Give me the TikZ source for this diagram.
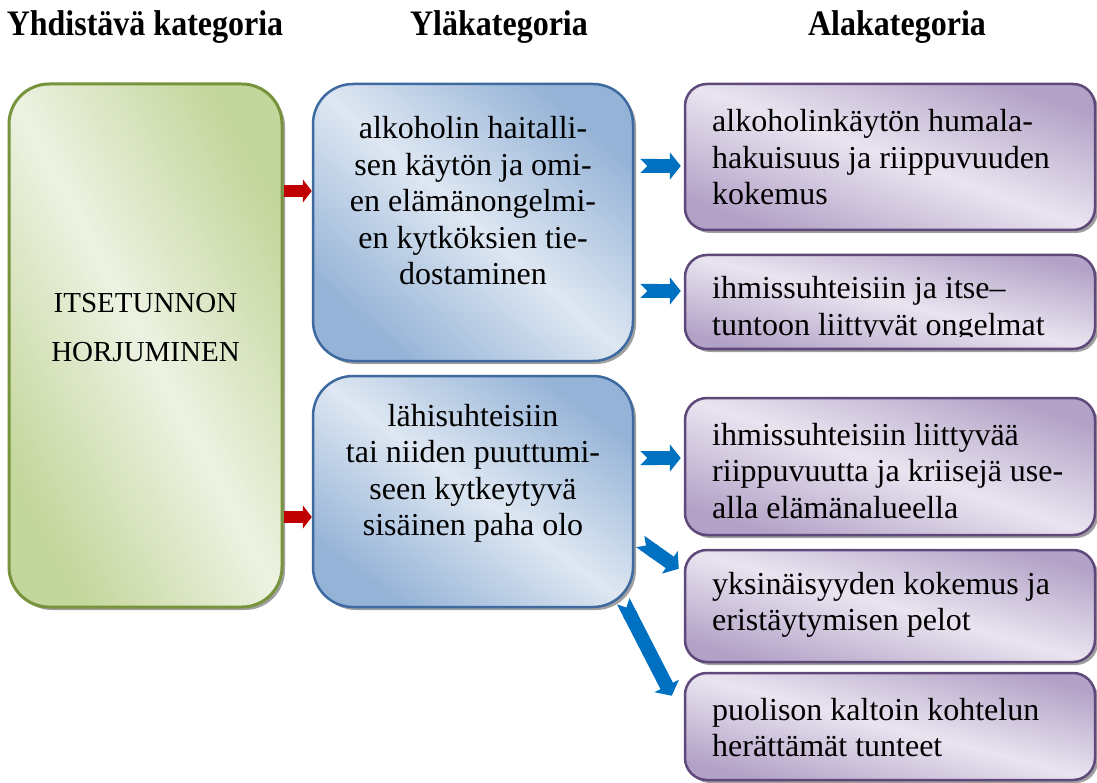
\documentclass[tikz,border=0pt]{standalone}
\usepackage{fontspec}
\setmainfont{Liberation Serif}
\usetikzlibrary{arrows.meta,shadows,calc,backgrounds}

\definecolor{greenedge}{HTML}{77933C}
\definecolor{greenlight}{HTML}{EDF2E2}
\definecolor{greendark}{HTML}{C3D69B}
\definecolor{blueedge}{HTML}{3E6AA0}
\definecolor{bluelight}{HTML}{DEE7F2}
\definecolor{bluedark}{HTML}{95B3D7}
\definecolor{purpleedge}{HTML}{5F497A}
\definecolor{purplelight}{HTML}{E9E4F0}
\definecolor{purpledark}{HTML}{B3A2C7}
\definecolor{arrowred}{HTML}{C00000}
\definecolor{arrowblue}{HTML}{0070C0}
\definecolor{shadowgray}{HTML}{A0A0A0}

\tikzset{
  card/.style={rectangle, inner sep=0pt, line width=2.5pt,
    drop shadow={shadow xshift=3pt, shadow yshift=-3pt, fill=shadowgray, opacity=1}},
  greencard/.style={card, rounded corners=40pt, draw=greenedge, line width=3pt,
    left color=greendark, right color=greendark, middle color=greenlight, shading angle=-62},
  bluecard/.style={card, rounded corners=40pt, draw=blueedge,
    left color=bluedark, right color=bluedark, middle color=bluelight, shading angle=#1},
  purplecard/.style={card, rounded corners=22pt, draw=purpleedge,
    left color=purpledark, right color=purpledark, middle color=purplelight, shading angle=#1},
  heading/.style={font=\bfseries\fontsize{32}{38}\selectfont, inner sep=0pt, anchor=base},
  % multi-line nodes are placed by the baseline of their last line
  bodytext/.style={font=\fontsize{32}{36.5}\selectfont, inner sep=0pt, anchor=base},
  redarrow/.style={draw=arrowred, line width=12pt, -{Triangle[length=9pt, width=23pt]}},
  bluearrow/.style={draw=arrowblue, line width=14pt,
    {Triangle Cap[reversed]}-{Triangle[length=11pt, width=27pt]}},
}

\begin{document}
\begin{tikzpicture}[x=1pt, y=1pt]
\useasboundingbox (0,0) rectangle (1097,-783);

% column headings
\node[heading] (h1) at (145,-36) {\scalebox{1}[1.12]{Yhdistävä kategoria}};
\node[heading] (h2) at (499,-36) {\scalebox{1}[1.12]{Yläkategoria}};
\node[heading] (h3) at (897,-36) {\scalebox{1}[1.12]{Alakategoria}};

% combining category
\node[greencard, minimum width=273pt, minimum height=523pt] (g) at (145.5,-345.5) {};
\node[font=\fontsize{29}{49}\selectfont, align=center, inner sep=0pt, anchor=base] (gt)
  at (145.5,-362) {ITSETUNNON\\HORJUMINEN};

% upper categories
\node[bluecard=-41, minimum width=320pt, minimum height=277pt] (b1) at (473,-222.5) {};
\node[bodytext, align=center] (b1t) at (473,-285)
  {alkoholin haitalli-\\sen käytön ja omi-\\en elämänongelmi-\\en kytköksien tie-\\dostaminen};
\node[bluecard=-36, minimum width=320pt, minimum height=231pt] (b2) at (473,-491.5) {};
\node[bodytext, align=center] (b2t) at (473,-535.5)
  {lähisuhteisiin\\tai niiden puuttumi-\\seen kytkeytyvä\\sisäinen paha olo};

% subcategories
\node[purplecard=-19.6, minimum width=410pt, minimum height=146pt] (p1) at (890,-157) {};
\node[bodytext, align=left, anchor=base west] (p1t) at (712,-205)
  {alkoholinkäytön humala-\\hakuisuus ja riippuvuuden\\kokemus};
\node[purplecard=-12.9, minimum width=410pt, minimum height=94pt] (p2) at (890,-302) {};
\begin{scope}
  \clip (690,-260) rectangle (1090,-337);
  \node[bodytext, align=left, anchor=base west] (p2t) at (712,-335)
    {ihmissuhteisiin ja itse–\\tuntoon liittyvät ongelmat};
\end{scope}
\node[purplecard=-18.5, minimum width=410pt, minimum height=137pt] (p3) at (890,-466.5) {};
\node[bodytext, align=left, anchor=base west] (p3t) at (712,-518)
  {ihmissuhteisiin liittyvää\\riippuvuutta ja kriisejä use-\\alla elämänalueella};
\node[purplecard=-15.3, minimum width=410pt, minimum height=112pt] (p4) at (890,-606) {};
\node[bodytext, align=left, anchor=base west] (p4t) at (712,-630.5)
  {yksinäisyyden kokemus ja\\eristäytymisen pelot};
\node[purplecard=-14.6, minimum width=410pt, minimum height=107pt] (p5) at (890,-726.5) {};
\node[bodytext, align=left, anchor=base west] (p5t) at (712,-756.5)
  {puolison kaltoin kohtelun\\herättämät tunteet};

% green to blue
\draw[redarrow] ([yshift=31.5pt]b1.west -| g.east) -- ([yshift=31.5pt]b1.west);
\draw[redarrow] ([yshift=-25.5pt]b2.west -| g.east) -- ([yshift=-25.5pt]b2.west);

% blue to purple
\draw[bluearrow] ([xshift=6pt, yshift=-9pt]p1.west -| b1.east) -- ([xshift=-3pt, yshift=-9pt]p1.west);
\draw[bluearrow] ([xshift=6pt, yshift=11pt]p2.west -| b1.east) -- ([xshift=-3pt, yshift=11pt]p2.west);
\draw[bluearrow] ([xshift=6pt, yshift=8.5pt]p3.west -| b2.east) -- ([xshift=-3pt, yshift=8.5pt]p3.west);
\draw[bluearrow] ($(b2.east)+(6,-50)$) -- ($(p4.north west)+(-5,-20)$);
\begin{pgfonlayer}{background}
  \draw[bluearrow] ($(b2.south east)+(-11,7)$) -- ($(p5.north west)+(-12,-24)$);
\end{pgfonlayer}
\end{tikzpicture}
\end{document}
